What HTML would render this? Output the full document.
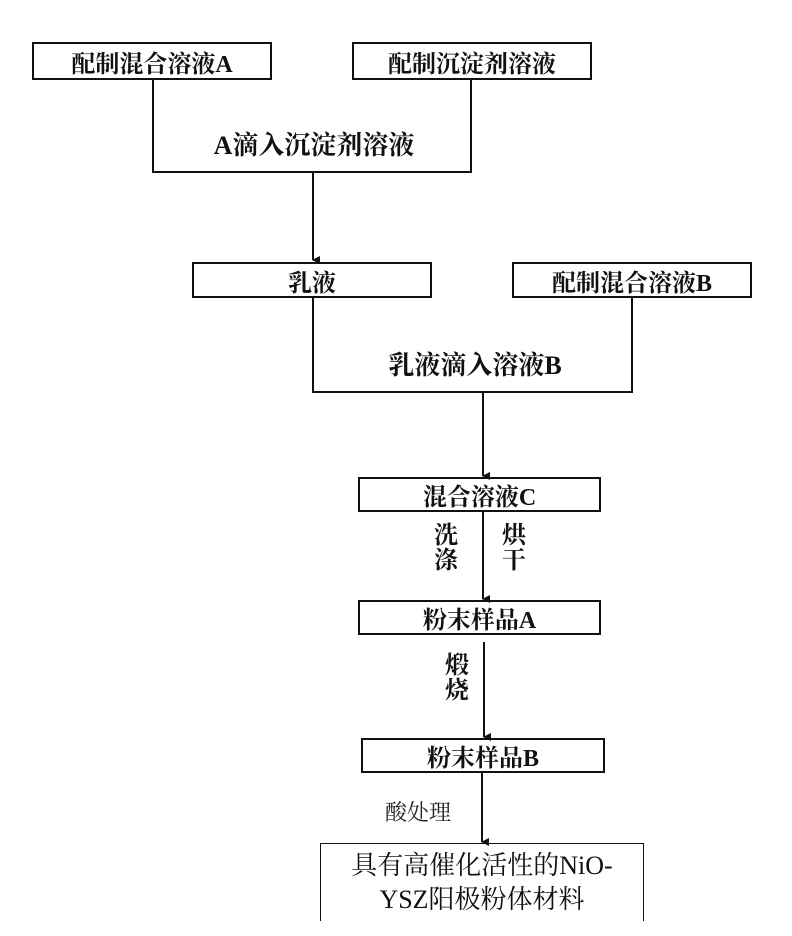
<!DOCTYPE html>
<html><head><meta charset="utf-8"><style>
body{margin:0;width:792px;height:936px;background:#fff;position:relative;overflow:hidden;font-family:"Liberation Serif","Noto Serif CJK SC","Noto Sans CJK SC",serif}
.b{position:absolute;border:2px solid #111;box-sizing:border-box;display:flex;align-items:center;justify-content:center;font-weight:bold;font-size:24px;color:#111;white-space:nowrap}
.t{position:absolute;font-weight:bold;font-size:26px;color:#111;white-space:nowrap;transform:translateX(-50%);line-height:28px}
</style></head><body>
<svg width="792" height="936" style="position:absolute;left:0;top:0">
<defs><marker id="a" markerWidth="10" markerHeight="10" refX="5" refY="9" orient="auto" markerUnits="userSpaceOnUse"><path d="M1,2 L5,10 L9,2 Z" fill="#111"/></marker></defs>
<g stroke="#111" stroke-width="2" fill="none">
<polyline points="153,80 153,172 471,172 471,80"/>
<line x1="313" y1="172" x2="313" y2="260" marker-end="url(#a)"/>
<polyline points="313,298 313,392 632,392 632,298"/>
<line x1="483" y1="392" x2="483" y2="476" marker-end="url(#a)"/>
<line x1="483" y1="512" x2="483" y2="599" marker-end="url(#a)"/>
<line x1="484" y1="642" x2="484" y2="737" marker-end="url(#a)"/>
<line x1="482" y1="772" x2="482" y2="842" marker-end="url(#a)"/>
</g></svg>
<div class="b" style="left:32px;top:42px;width:240px;height:38px">配制混合溶液A</div>
<div class="b" style="left:352px;top:42px;width:240px;height:38px">配制沉淀剂溶液</div>
<div class="t" style="left:314px;top:132px;font-size:26px">A滴入沉淀剂溶液</div>
<div class="b" style="left:192px;top:262px;width:240px;height:36px">乳液</div>
<div class="b" style="left:512px;top:262px;width:240px;height:36px">配制混合溶液B</div>
<div class="t" style="left:475px;top:352px;font-size:26px">乳液滴入溶液B</div>
<div class="b" style="left:358px;top:477px;width:243px;height:35px">混合溶液C</div>
<div class="t" style="left:446px;top:524px;line-height:25px;font-size:24px">洗<br>涤</div>
<div class="t" style="left:514px;top:524px;line-height:25px;font-size:24px">烘<br>干</div>
<div class="b" style="left:358px;top:600px;width:243px;height:35px">粉末样品A</div>
<div class="t" style="left:457px;top:654px;line-height:25px;font-size:24px">煅<br>烧</div>
<div class="b" style="left:361px;top:738px;width:244px;height:35px">粉末样品B</div>
<div style="position:absolute;left:385px;top:796px;font-size:22px;color:#222">酸处理</div>
<div class="b" style="left:320px;top:843px;width:324px;height:78px;font-weight:normal;font-size:26px;line-height:34px;text-align:center;border-width:1px;border-bottom:none">具有高催化活性的NiO-<br>YSZ阳极粉体材料</div>
</body></html>
